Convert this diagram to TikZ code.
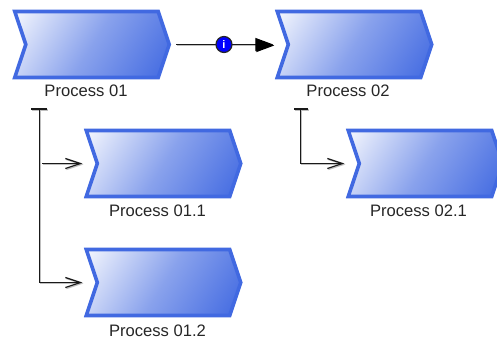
\documentclass[tikz,border=0pt]{standalone}
\usepackage{fontspec}
\setmainfont{Liberation Sans}
\usetikzlibrary{arrows.meta,shapes.symbols,positioning}
\definecolor{procblue}{RGB}{65,105,225}
\pgfdeclareverticalshading{procgrad}{100bp}{
  color(0bp)=(procblue); color(16bp)=(procblue);
  color(50bp)=(procblue!62!white); color(88bp)=(white); color(100bp)=(white)}
\tikzset{
  x=1pt,y=-1pt,
  process/.style={signal,signal to=east,signal from=west,signal pointer angle=143,
    minimum width=154.5pt,minimum height=66pt,inner sep=0pt,outer sep=0pt,
    draw=procblue,line width=3.6pt,miter limit=10,
    shade,shading=procgrad,shading angle=58},
  proclabel/.style={font=\fontsize{16.6pt}{18pt}\selectfont,text=black!85,inner sep=0pt,anchor=center},
  link/.style={draw=black!90,line width=1.3pt,
    preaction={draw=black!25,line width=1.3pt,transform canvas={shift={(1pt,-1pt)}}}},
  openhead/.style={-{Straight Barb[length=15pt,width=10pt,line width=1.2pt]}},
  solidhead/.style={-{Triangle[length=18pt,width=13pt,fill=black,color=black]}},
  infobadge/.style={circle,fill=blue,draw=black!85,line width=1.2pt,minimum size=16pt,inner sep=0pt,
    text=white,font=\fontsize{11pt}{11pt}\selectfont\bfseries}
}
\begin{document}
\begin{tikzpicture}
\useasboundingbox (0,0) rectangle (497,340);
\begin{scope}
\clip (0,0) rectangle (497,340);
\node[process] (p1)  at (92,44.5) {};
\node[process] (p2)  at (354.5,44.5) {};
\node[process] (p11) at (163.5,163.5) {};
\node[process] (p12) at (163.5,282.5) {};
\node[process] (p21) at (425.5,163.5) {};
\end{scope}
\node[proclabel] (l1)  at (86,91) {Process 01};
\node[proclabel] (l2)  at (348,91) {Process 02};
\node[proclabel] (l11) at (157.5,211) {Process 01.1};
\node[proclabel] (l12) at (157.5,331) {Process 01.2};
\node[proclabel] (l21) at (418.5,211) {Process 02.1};
\coordinate (s1) at (39.5,109);
\coordinate (s2) at (300.5,109);
\coordinate (b1a) at (31,109);
\coordinate (b1b) at (47,109);
\coordinate (b2a) at (294,109);
\coordinate (b2b) at (308,109);
\coordinate (j1) at (42,163.5);
\coordinate (o1) at (176,44.5);
\path[link,solidhead] (o1) -- ([xshift=-15pt]p2.west);
\node[infobadge] (info) at (224,44.5) {i};
\path[link] (b1a) -- (b1b);
\path[link] (b2a) -- (b2b);
\path[link,openhead] (s1) |- ([xshift=-15pt]p12.west);
\path[link,openhead] (j1) -- ([xshift=-15pt]p11.west);
\path[link,openhead] (s2) |- ([xshift=-15pt]p21.west);
\end{tikzpicture}
\end{document}
